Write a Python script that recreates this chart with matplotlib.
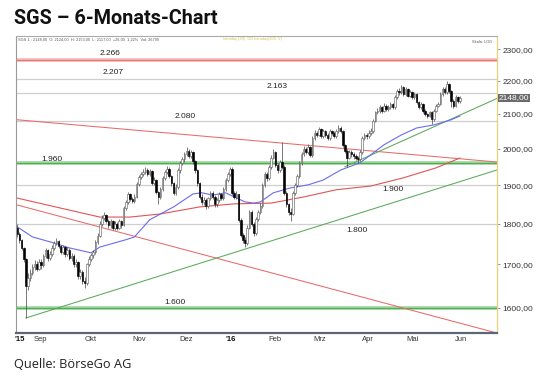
import numpy as np
import matplotlib
matplotlib.use("Agg")
import matplotlib.pyplot as plt
from matplotlib.ticker import FixedLocator, NullLocator, FuncFormatter

# ---------------- data ----------------
close = [1775, 1760, 1740, 1712, 1650, 1668, 1680, 1695, 1702, 1690, 1705, 1698, 1720, 1735, 1715, 1725, 1740, 1752, 1756, 1745, 1730,
         1742, 1724, 1736, 1715, 1720, 1700, 1706, 1672, 1682, 1662, 1656, 1700, 1714, 1722, 1730, 1755, 1770, 1800, 1815, 1822,
         1808, 1796, 1806, 1790, 1800, 1790, 1806, 1796, 1840, 1856, 1876, 1864, 1858, 1870, 1902, 1922, 1930, 1936, 1942, 1930,
         1938, 1906, 1915, 1882, 1870, 1890, 1920, 1935, 1945, 1925, 1905, 1880, 1895, 1940, 1960, 1970, 1985, 1995, 1980, 1990,
         1965, 1940, 1905, 1870, 1855, 1862, 1845, 1865, 1880, 1870, 1850, 1860, 1876, 1865, 1890, 1915, 1930, 1945, 1880, 1870,
         1876, 1810, 1772, 1760, 1752, 1790, 1830, 1800, 1776, 1812, 1830, 1845, 1900, 1930, 1920, 1950, 1975, 1990, 1955, 1940,
         1962, 1950, 1880, 1850, 1830, 1826, 1880, 1900, 1925, 1960, 1985, 2000, 1990, 2005, 1982, 2030, 2045, 2040, 2055, 2035,
         2050, 2040, 2030, 2050, 2045, 2035, 2050, 2060, 2050, 2010, 1995, 1975, 1990, 1985, 1980, 1975, 1972, 1990, 2030, 2040,
         2035, 2045, 2050, 2080, 2105, 2110, 2120, 2110, 2125, 2115, 2120, 2130, 2120, 2150, 2170, 2165, 2180, 2160, 2175, 2155,
         2165, 2150, 2160, 2135, 2120, 2130, 2110, 2100, 2095, 2105, 2085, 2110, 2125, 2130, 2160, 2175, 2165, 2190, 2170, 2140,
         2125, 2150, 2140, 2148]
high = [1800, 1780, 1762, 1742, 1715, 1680, 1690, 1702, 1710, 1708, 1712, 1712, 1726, 1740, 1738, 1732, 1746, 1758, 1764, 1760, 1748,
        1748, 1745, 1742, 1740, 1728, 1724, 1714, 1708, 1690, 1686, 1670, 1704, 1720, 1728, 1736, 1760, 1776, 1806, 1822, 1830,
        1826, 1812, 1812, 1810, 1806, 1804, 1812, 1810, 1846, 1862, 1882, 1880, 1870, 1876, 1908, 1928, 1936, 1944, 1948, 1946,
        1944, 1940, 1922, 1918, 1886, 1896, 1926, 1940, 1952, 1948, 1928, 1908, 1902, 1946, 1966, 1978, 1992, 2005, 2000, 1996,
        1994, 1968, 1944, 1908, 1876, 1870, 1866, 1870, 1886, 1884, 1874, 1866, 1882, 1880, 1896, 1920, 1936, 1950, 1948, 1886,
        1884, 1878, 1814, 1778, 1766, 1796, 1836, 1834, 1804, 1818, 1836, 1852, 1906, 1936, 1936, 1956, 1982, 2000, 1994, 1960,
        1968, 2018, 1954, 1884, 1854, 1840, 1886, 1906, 1930, 1966, 1990, 2008, 2004, 2012, 2008, 2036, 2052, 2050, 2062, 2058,
        2056, 2054, 2044, 2056, 2054, 2050, 2056, 2068, 2064, 2052, 2014, 1998, 1996, 1996, 1990, 1986, 1980, 1996, 2036, 2046,
        2046, 2052, 2058, 2086, 2110, 2118, 2128, 2124, 2132, 2130, 2126, 2136, 2134, 2156, 2176, 2178, 2186, 2184, 2180, 2178,
        2172, 2168, 2166, 2162, 2140, 2136, 2134, 2114, 2104, 2110, 2108, 2116, 2130, 2136, 2166, 2182, 2180, 2200, 2194, 2172,
        2146, 2156, 2154, 2154]
low = [1768, 1752, 1735, 1705, 1577, 1640, 1660, 1675, 1688, 1684, 1686, 1690, 1694, 1716, 1708, 1710, 1720, 1736, 1748, 1740, 1724,
       1726, 1718, 1720, 1710, 1708, 1695, 1694, 1666, 1665, 1655, 1645, 1652, 1696, 1708, 1716, 1726, 1750, 1766, 1795, 1810,
       1802, 1790, 1790, 1784, 1785, 1784, 1786, 1790, 1794, 1836, 1850, 1858, 1852, 1852, 1866, 1898, 1916, 1924, 1930, 1924,
       1924, 1900, 1900, 1876, 1850, 1864, 1886, 1914, 1930, 1920, 1898, 1874, 1874, 1890, 1934, 1954, 1964, 1980, 1974, 1974,
       1958, 1934, 1898, 1864, 1848, 1848, 1838, 1840, 1860, 1864, 1844, 1844, 1855, 1860, 1860, 1885, 1910, 1925, 1875, 1864,
       1864, 1804, 1766, 1752, 1742, 1748, 1786, 1794, 1770, 1772, 1806, 1824, 1840, 1895, 1912, 1915, 1945, 1970, 1950, 1934,
       1936, 1944, 1874, 1844, 1822, 1808, 1822, 1875, 1895, 1920, 1955, 1980, 1984, 1985, 1976, 1978, 2025, 2034, 2036, 2030,
       2030, 2034, 2024, 2026, 2038, 2030, 2030, 2046, 2044, 2004, 1988, 1950, 1970, 1978, 1972, 1968, 1960, 1966, 1986, 2024,
       2028, 2030, 2040, 2046, 2076, 2100, 2104, 2104, 2105, 2110, 2110, 2114, 2114, 2116, 2145, 2158, 2160, 2154, 2155, 2150,
       2150, 2144, 2145, 2130, 2114, 2115, 2104, 2094, 2088, 2090, 2070, 2080, 2105, 2120, 2126, 2155, 2160, 2160, 2164, 2120,
       2118, 2120, 2134, 2132]
first_open = 1790

# moving averages (knots: trading-day index, value)
sma_short_idx = [0, 7, 17, 24, 34, 38, 50, 54, 61, 72, 81, 85, 90, 96, 100, 105, 109, 112, 118, 126, 134, 141, 149, 158, 169, 177, 184, 192, 200, 204]
sma_short_val = [1792, 1767, 1752, 1740, 1728, 1742, 1760, 1767, 1810, 1843, 1877, 1880, 1874, 1880, 1869, 1856, 1853, 1856, 1880, 1893, 1901, 1914, 1941, 1961, 2011, 2039, 2059, 2068, 2083, 2094]
sma_long_idx = [0, 20, 38, 52, 66, 84, 100, 117, 132, 147, 163, 178, 193, 204]
sma_long_val = [1866, 1840, 1817, 1817, 1825, 1843, 1851, 1853, 1869, 1888, 1898, 1920, 1947, 1974]

# horizontal levels
levels_red = [2266]
levels_gray = [2207, 2163, 2080, 1900, 1800]
levels_green = [1960, 1600]

# trend lines: (start index, start value, end index, end value)
trend_red = [(0, 2083, 221, 1963), (0, 1848, 221, 1544)]
trend_green = [(4, 1577, 221, 1941), (151, 1950, 221, 2146)]

# axis labels
month_labels = ["'15", "Sep", "Okt", "Nov", "Dez", "'16", "Feb", "Mrz", "Apr", "Mai", "Jun"]
month_pos = [1.1, 10.7, 33.7, 56.3, 77.6, 98.3, 118.6, 139.5, 161.8, 182.4, 204.6]
y_ticks = [1600, 1700, 1800, 1900, 2000, 2100, 2200, 2300]
last_price = 2148

# ---------------- figure ----------------
W, H = 540, 381
fig = plt.figure(figsize=(W / 100, H / 100), dpi=100)
fig.patch.set_facecolor("white")

def px_ax(l, t, r, b):
    return [l / W, 1 - b / H, (r - l) / W, (b - t) / H]

ax = fig.add_axes(px_ax(16, 36, 497, 333))
ax.set_yscale("log")
ax.set_ylim(1544, 2343)
ax.set_xlim(-0.6, 221.1)

n = len(close)
x = np.arange(n)
opens = [first_open] + close[:-1]

# horizontal lines
for v in levels_gray:
    ax.axhline(v, color="#cfcfcf", lw=0.9, zorder=1)
for v in levels_red:
    ax.axhline(v, color="#f5b5b5", lw=2.6, zorder=1)
    ax.axhline(v, color="#e57373", lw=0.7, zorder=1)
for v in levels_green:
    ax.axhline(v, color="#9fd49f", lw=2.6, zorder=1)
    ax.axhline(v, color="#4caf50", lw=0.8, zorder=1)

# trend lines
for (i0, v0, i1, v1) in trend_red:
    ax.plot([i0, i1], [v0, v1], color="#e86a6a", lw=0.75, zorder=2)
for (i0, v0, i1, v1) in trend_green:
    ax.plot([i0, i1], [v0, v1], color="#5aaa5a", lw=0.75, zorder=2)

# moving averages
ax.plot(sma_long_idx, sma_long_val, color="#e05555", lw=0.8, zorder=2)
ax.plot(sma_short_idx, sma_short_val, color="#6b6bf0", lw=0.8, zorder=2)

# candles
ax.vlines(x, low, high, color="#444444", lw=0.5, zorder=3)
for i in range(n):
    o, c = opens[i], close[i]
    lo, hi = min(o, c), max(o, c)
    if hi - lo < 1:
        hi = lo + 1
    if c >= o:
        fc, ec = "white", "#666666"
    else:
        fc, ec = "black", "black"
    ax.bar(x[i], hi - lo, bottom=lo, width=0.72, color=fc, edgecolor=ec, linewidth=0.45, zorder=4)

# level labels
lab_pos = {2266: (42.9, 6), 2207: (44.2, 6), 2163: (119.8, 6), 2080: (77.4, 4),
           1960: (16.1, 4), 1900: (173.3, -4.5), 1800: (156.7, -7), 1600: (72.8, 5)}
for v in levels_red + levels_gray + levels_green:
    xi, dy = lab_pos[v]
    txt = f"{v / 1000:.3f}"
    ax.annotate(txt, (xi, v), xytext=(0, dy * 0.72), textcoords="offset points",
                ha="center", va="center", fontsize=6, color="#222222",
                family="Liberation Sans", zorder=5)

# axes styling
ax.spines["left"].set_color("#999999")
ax.spines["left"].set_linestyle((0, (1, 1)))
ax.spines["left"].set_linewidth(0.8)
ax.spines["top"].set_color("#aaaaaa")
ax.spines["top"].set_linewidth(0.8)
ax.spines["right"].set_color("#e6d27a")
ax.spines["right"].set_linestyle((0, (1, 1)))
ax.spines["right"].set_linewidth(0.9)
ax.spines["bottom"].set_color("#5d6579")
ax.spines["bottom"].set_linewidth(1.6)

ax.yaxis.tick_right()
ax.yaxis.set_major_locator(FixedLocator(y_ticks))
ax.yaxis.set_minor_locator(NullLocator())
ax.yaxis.set_major_formatter(FuncFormatter(lambda v, p: f"{v:.2f}".replace(".", ",")))
ax.tick_params(axis="y", which="major", length=2, width=0.6, color="#888888",
               labelsize=6, labelcolor="#333333", pad=2)
for t in ax.get_yticklabels():
    t.set_family("Liberation Sans")

ax.xaxis.set_major_locator(FixedLocator(month_pos))
ax.xaxis.set_minor_locator(NullLocator())
ax.set_xticklabels(month_labels)
ax.tick_params(axis="x", length=0, labelsize=5.5, labelcolor="#333333", pad=2.5)
for t in ax.get_xticklabels():
    t.set_family("Liberation Sans")
    if t.get_text().startswith("'"):
        t.set_fontweight("bold")
        t.set_color("#111111")

# current price label
ax.text(1.003, last_price, f"{last_price:.2f}".replace(".", ","), transform=ax.get_yaxis_transform(),
        ha="left", va="center", fontsize=6, color="white", family="Liberation Sans",
        bbox=dict(facecolor="#6b6b6b", edgecolor="none", pad=0.6), clip_on=False, zorder=6)

# header line inside chart
ax.text(0.004, 0.995, "SGS 1 : 2148,00  O: 2124,00  H: 2153,00  L: 2117,00  +26,00  1,22%  Vol: 26799",
        transform=ax.transAxes, ha="left", va="top", fontsize=2.8, color="#555555", family="Liberation Sans")
ax.text(0.43, 0.995, "Intraday (38), GD Intraday(200, V)", transform=ax.transAxes, ha="left", va="top",
        fontsize=2.8, color="#d4c24a", family="Liberation Sans")
ax.text(0.99, 0.985, "Skala: LOG", transform=ax.transAxes, ha="right", va="top",
        fontsize=2.8, color="#555555", family="Liberation Sans")

# title and source
fig.text(14 / W, 1 - 19 / H, "SGS – 6-Monats-Chart", ha="left", va="center",
         fontsize=14.3, fontweight="bold", family="Roboto", color="#111111")
fig.text(14 / W, 1 - 364 / H, "Quelle: BörseGo AG", ha="left", va="center",
         fontsize=9.2, family="Open Sans", color="#222222")

fig.savefig("out.png", dpi=100, facecolor="white")
